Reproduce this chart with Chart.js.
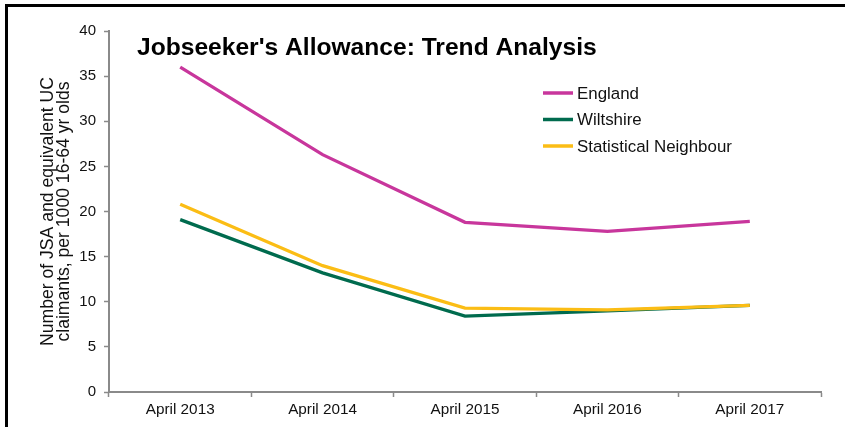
<!DOCTYPE html>
<html>
<head>
<meta charset="utf-8">
<title>Jobseeker's Allowance: Trend Analysis</title>
<script src="https://cdn.jsdelivr.net/npm/chart.js@4/dist/chart.umd.min.js"></script>
<style>
	html, body { margin: 0; padding: 0; background: #fff; overflow: hidden; }
	#wrap { position: relative; width: 845px; height: 427px; }
	#chart { position: absolute; left: 0; top: 0; }
	#frame {
		position: absolute; left: 5px; top: 4px; width: 900px; height: 500px;
		border-left: 3px solid #000; border-top: 3px solid #000; pointer-events: none;
	}
</style>
</head>
<body>
<div id="wrap">
	<canvas id="chart" width="845" height="427"></canvas>
	<div id="frame"></div>
</div>
<script>
// claimants per 1000 residents aged 16-64
var years = ['April 2013', 'April 2014', 'April 2015', 'April 2016', 'April 2017'];
var england = [36.0, 26.3, 18.8, 17.8, 18.9];
var wiltshire = [19.1, 13.2, 8.4, 9.0, 9.6];
var neighbour = [20.8, 14.0, 9.3, 9.1, 9.6];
var yTicks = [0, 5, 10, 15, 20, 25, 30, 35, 40];

var FONT = '"Liberation Sans", Arial, Helvetica, sans-serif';
var axisGrey = '#8a8a8a';

// title sits inside the plot area, top left
var titlePlugin = {
	id: 'insideTitle',
	afterDraw: function (chart) {
		var ctx = chart.ctx, area = chart.chartArea;
		ctx.save();
		ctx.font = 'bold 24.6px ' + FONT;
		ctx.fillStyle = '#000';
		ctx.textBaseline = 'alphabetic';
		ctx.textAlign = 'left';
		ctx.fillText("Jobseeker's Allowance: Trend Analysis", area.left + 28, area.top + 24);
		ctx.restore();
	}
};

// legend drawn inside the plot area, to the right
var legendPlugin = {
	id: 'insideLegend',
	afterDraw: function (chart) {
		var ctx = chart.ctx, area = chart.chartArea;
		var x = area.left + 434, y = area.top + 62;
		ctx.save();
		ctx.font = '16.9px ' + FONT;
		ctx.textBaseline = 'middle';
		ctx.textAlign = 'left';
		chart.data.datasets.forEach(function (ds, i) {
			var yy = y + i * 26.5;
			ctx.strokeStyle = ds.borderColor;
			ctx.lineWidth = 3.5;
			ctx.beginPath();
			ctx.moveTo(x, yy);
			ctx.lineTo(x + 30, yy);
			ctx.stroke();
			ctx.fillStyle = '#111';
			ctx.fillText(ds.label, x + 34, yy + 1);
		});
		ctx.restore();
	}
};

new Chart(document.getElementById('chart').getContext('2d'), {
	type: 'line',
	data: {
		labels: years,
		datasets: [{
			label: 'England',
			data: england,
			borderColor: '#c8369c',
			order: 2
		}, {
			label: 'Wiltshire',
			data: wiltshire,
			borderColor: '#006b4e',
			order: 1
		}, {
			label: 'Statistical Neighbour',
			data: neighbour,
			borderColor: '#fbbd15',
			order: 0
		}]
	},
	options: {
		responsive: false,
		animation: false,
		events: [],
		layout: { padding: { top: 31, right: 24, left: 0, bottom: 0 } },
		elements: {
			line: { borderWidth: 3.3, tension: 0, fill: false },
			point: { radius: 0 }
		},
		plugins: {
			legend: { display: false },
			tooltip: { enabled: false },
			title: { display: false }
		},
		scales: {
			x: {
				offset: true,
				grid: {
					display: true, offset: true, drawOnChartArea: false,
					tickLength: 5, color: axisGrey, tickWidth: 1.5
				},
				border: { display: true, color: axisGrey, width: 2 },
				ticks: {
					color: '#111', padding: 4,
					font: { family: FONT, size: 15.3 },
					maxRotation: 0, autoSkip: false
				},
				afterFit: function (scale) { scale.height = 35; }
			},
			y: {
				min: 0,
				max: 40,
				afterBuildTicks: function (scale) {
					scale.ticks = yTicks.map(function (v) { return { value: v }; });
				},
				grid: {
					display: true, drawOnChartArea: false,
					tickLength: 5, color: axisGrey, tickWidth: 1.5
				},
				border: { display: true, color: axisGrey, width: 2 },
				ticks: {
					color: '#111', padding: 8,
					font: { family: FONT, size: 15 }
				},
				title: {
					display: true,
					text: ['Number of JSA and equivalent UC', 'claimants, per 1000 16-64 yr olds'],
					color: '#111',
					font: { family: FONT, size: 17.6, lineHeight: 0.95 },
					padding: { top: 39.5, bottom: 0 }
				},
				afterFit: function (scale) { scale.width = 109; }
			}
		}
	},
	plugins: [titlePlugin, legendPlugin]
});
</script>
</body>
</html>
